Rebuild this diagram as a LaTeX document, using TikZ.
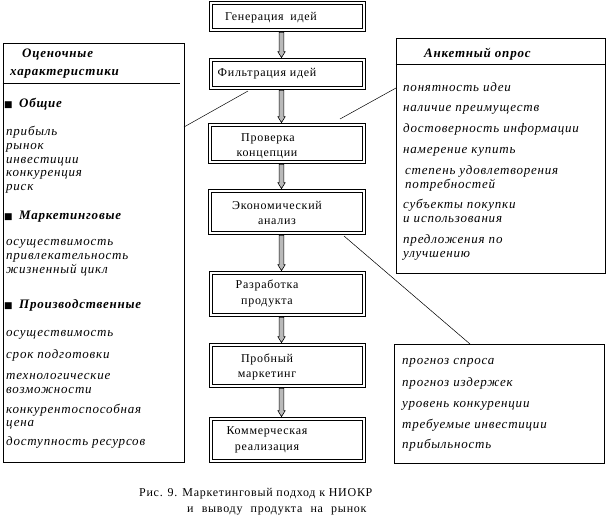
\documentclass[tikz,border=0pt]{standalone}
\usepackage{fontspec}
\setmainfont{Liberation Serif}
\newfontfamily\boxfont{Liberation Serif}[LetterSpace=6]
\newfontfamily\itfont{Liberation Serif}[LetterSpace=6]
\newfontfamily\symfont{DejaVu Sans}
\usetikzlibrary{calc}
\tikzset{
  stagebox/.style={draw, double, double distance=2pt, line width=0.8pt, inner sep=0pt, rectangle},
  plainbox/.style={draw, line width=0.8pt, inner sep=0pt, rectangle},
  boxtext/.style={font=\boxfont\fontsize{12}{14}\selectfont, inner sep=0pt, anchor=base},
  itemtext/.style={font=\itfont\itshape\fontsize{13}{15}\selectfont, inner sep=0pt, anchor=base west},
  headtext/.style={font=\itfont\bfseries\itshape\fontsize{13}{15}\selectfont, inner sep=0pt, anchor=base west},
  bullet/.style={font=\symfont\fontsize{9}{9}\selectfont, inner sep=0pt, anchor=base west},
  captext/.style={font=\boxfont\fontsize{12}{14}\selectfont, inner sep=0pt, anchor=base west},
  thinline/.style={line width=0.5pt},
  grayarrow/.style={draw=black, fill=gray!55, line width=0.6pt},
}
\newcommand\garrow[2]{%
  \path[grayarrow] let \p1=(#1.south), \p2=(#2.north) in
    ({279.1pt},{\y1-1.8pt}) -- ({279.1pt},{\y2+7.8pt}) -- ({277.8pt},{\y2+7.8pt})
    -- ({281.5pt},{\y2+1.8pt}) -- ({285.2pt},{\y2+7.8pt}) -- ({283.9pt},{\y2+7.8pt})
    -- ({283.9pt},{\y1-1.8pt}) -- cycle;}
\newcommand\wsp{\hspace{4.5pt}}
\begin{document}
\begin{tikzpicture}[x=1pt,y=-1pt]
\useasboundingbox (0,0) rectangle (608,515);
% stage boxes
\node[stagebox, minimum width=153.4pt, minimum height=27.4pt] (G) at (287.5,16.5) {};
\node[stagebox, minimum width=153.4pt, minimum height=28.4pt] (F) at (287.5,74) {};
\node[stagebox, minimum width=154.4pt, minimum height=37.4pt] (P) at (287,143.5) {};
\node[stagebox, minimum width=154.4pt, minimum height=42.4pt] (E) at (287,212) {};
\node[stagebox, minimum width=153.4pt, minimum height=42.4pt] (R) at (287.5,294) {};
\node[stagebox, minimum width=153.4pt, minimum height=41.4pt] (T) at (287.5,365.5) {};
\node[stagebox, minimum width=153.4pt, minimum height=42.4pt] (K) at (287.5,440) {};
% stage texts
\node[boxtext] (tG) at (271,20) {Генерация\hspace{3pt} идей};
\node[boxtext] (tF) at (267,76) {Фильтрация идей};
\node[boxtext] (tP1) at (268,141) {Проверка};
\node[boxtext] (tP2) at (267,156) {концепции};
\node[boxtext] (tE1) at (277,209) {Экономический};
\node[boxtext] (tE2) at (277,224) {анализ};
\node[boxtext] (tR1) at (267,288) {Разработка};
\node[boxtext] (tR2) at (267,304) {продукта};
\node[boxtext] (tT1) at (267,362) {Пробный};
\node[boxtext] (tT2) at (267,377) {маркетинг};
\node[boxtext] (tK1) at (267,434) {Коммерческая};
\node[boxtext] (tK2) at (267,450) {реализация};
% arrows
\garrow{G}{F}
\garrow{F}{P}
\garrow{P}{E}
\garrow{E}{R}
\garrow{R}{T}
\garrow{T}{K}
% left box
\node[plainbox, minimum width=181pt, minimum height=419pt] (L) at (93.5,252.5) {};
\coordinate (Lsep) at (180,83);
\draw[thinline] (L.west |- Lsep) -- (Lsep);
\node[headtext] (h1) at (22,57) {Оценочные};
\node[headtext] (h2) at (10,75) {характеристики};
\node[bullet] (b1) at (4,107) {■};
\node[headtext] (g1) at (19,107) {Общие};
\node[itemtext] (i1) at (6,135) {прибыль};
\node[itemtext] (i2) at (6,149) {рынок};
\node[itemtext] (i3) at (6,163) {инвестиции};
\node[itemtext] (i4) at (6,176) {конкуренция};
\node[itemtext] (i5) at (6,190) {риск};
\node[bullet] (b2) at (4,219) {■};
\node[headtext] (g2) at (19,219) {Маркетинговые};
\node[itemtext] (i6) at (6,245) {осуществимость};
\node[itemtext] (i7) at (6,259) {привлекательность};
\node[itemtext] (i8) at (6,273) {жизненный цикл};
\node[bullet] (b3) at (4,308) {■};
\node[headtext] (g3) at (19,308) {Производственные};
\node[itemtext] (i9) at (6,336) {осуществимость};
\node[itemtext] (i10) at (6,358) {срок подготовки};
\node[itemtext] (i11) at (6,379) {технологические};
\node[itemtext] (i12) at (6,393) {возможности};
\node[itemtext] (i13) at (6,413) {конкурентоспособная};
\node[itemtext] (i14) at (6,426) {цена};
\node[itemtext] (i15) at (6,445) {доступность ресурсов};
% right top box
\node[plainbox, minimum width=209pt, minimum height=235pt] (A) at (500.5,155.5) {};
\coordinate (Asep) at (500,64);
\draw[thinline] (A.west |- Asep) -- (A.east |- Asep);
\node[headtext] (ha) at (424,57) {Анкетный опрос};
\node[itemtext] (a1) at (403,91) {понятность идеи};
\node[itemtext] (a2) at (403,111) {наличие преимуществ};
\node[itemtext] (a3) at (403,132) {достоверность информации};
\node[itemtext] (a4) at (403,153) {намерение купить};
\node[itemtext] (a5) at (405,174) {степень удовлетворения};
\node[itemtext] (a6) at (405,188) {потребностей};
\node[itemtext] (a7) at (403,208) {субъекты покупки};
\node[itemtext] (a8) at (403,222) {и использования};
\node[itemtext] (a9) at (403,243) {предложения по};
\node[itemtext] (a10) at (403,257) {улучшению};
% right bottom box
\node[plainbox, minimum width=210pt, minimum height=119pt] (B) at (499,403.5) {};
\node[itemtext] (c1) at (402,364) {прогноз спроса};
\node[itemtext] (c2) at (402,386) {прогноз издержек};
\node[itemtext] (c3) at (402,407) {уровень конкуренции};
\node[itemtext] (c4) at (402,428) {требуемые инвестиции};
\node[itemtext] (c5) at (402,448) {прибыльность};
% thin connectors
\coordinate (l1a) at (184,127);
\coordinate (l1b) at (248,91);
\coordinate (l2a) at (396,88);
\coordinate (l2b) at (340,119);
\coordinate (l3a) at (344,236);
\coordinate (l3b) at (470,344);
\draw[thinline] (l1a) -- (l1b);
\draw[thinline] (l2a) -- (l2b);
\draw[thinline] (l3a) -- (l3b);
% caption
\node[captext] (cap1) at (139,496) {Рис. 9. Маркетинговый подход к НИОКР};
\node[captext] (cap2) at (187,512) {и\wsp{} выводу\wsp{} продукта\wsp{} на\wsp{} рынок};
\end{tikzpicture}
\end{document}
